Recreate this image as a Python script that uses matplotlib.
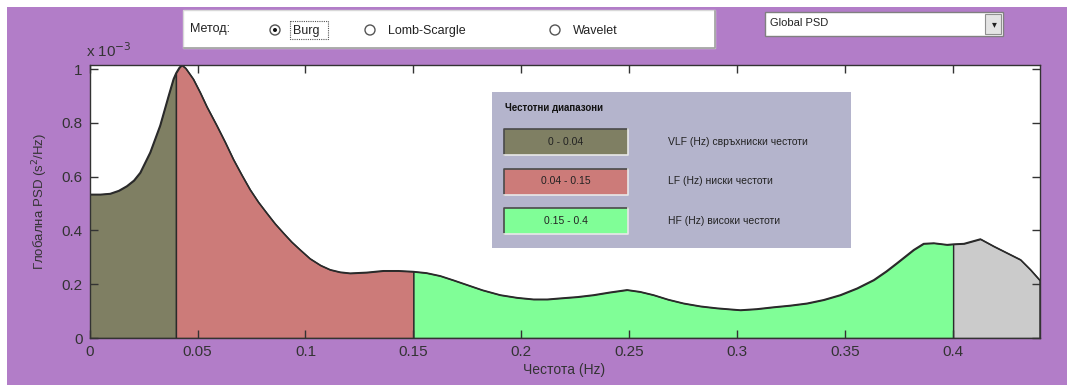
import numpy as np
import matplotlib
matplotlib.use('Agg')
from matplotlib import pyplot as plt
from matplotlib.patches import Rectangle, Circle

''' data read off the reference (psd in units of 1e-3 s^2/Hz) '''
freq = [0.0, 0.005, 0.0095, 0.0135, 0.0172, 0.0205, 0.0234, 0.028, 0.0326, 0.0365, 0.0388,
        0.04, 0.0415, 0.0427, 0.0445, 0.048, 0.0512, 0.0543, 0.0589, 0.0628, 0.0666, 0.0705,
        0.0743, 0.0782, 0.082, 0.0859, 0.0898, 0.0936, 0.0975, 0.1021, 0.107, 0.1114,
        0.116, 0.1206, 0.1284, 0.136, 0.143, 0.15,
        0.156, 0.1624, 0.1685, 0.1747, 0.182, 0.1902, 0.198, 0.2056, 0.212, 0.218, 0.226,
        0.2334, 0.241, 0.2489, 0.255, 0.2612, 0.268, 0.2751, 0.283, 0.2906,
        0.3014, 0.309, 0.3168, 0.3245, 0.3323, 0.34, 0.3477, 0.3555, 0.3632, 0.369, 0.374,
        0.3817, 0.3863, 0.391, 0.3972,
        0.4, 0.405, 0.4126, 0.4188, 0.425, 0.4312, 0.4358, 0.44]
psd = [0.534, 0.534, 0.537, 0.548, 0.565, 0.586, 0.615, 0.69, 0.79, 0.90, 0.963,
       0.985, 1.005, 1.015, 1.003, 0.963, 0.913, 0.86, 0.79, 0.728, 0.664, 0.606,
       0.552, 0.505, 0.465, 0.425, 0.39, 0.357, 0.328, 0.295, 0.27, 0.254,
       0.245, 0.241, 0.244, 0.25, 0.25, 0.247,
       0.242, 0.231, 0.215, 0.198, 0.178, 0.160, 0.150, 0.144, 0.144, 0.148, 0.153,
       0.160, 0.170, 0.179, 0.172, 0.160, 0.143, 0.129, 0.118, 0.111,
       0.104, 0.108, 0.115, 0.121, 0.129, 0.142, 0.160, 0.185, 0.216, 0.248, 0.279,
       0.328, 0.351, 0.353, 0.347,
       0.349, 0.351, 0.368, 0.341, 0.316, 0.291, 0.254, 0.216]

bands = [(0.0, 0.04), (0.04, 0.15), (0.15, 0.4), (0.4, 0.44)]
band_colors = ['#7f7f63', '#cc7b79', '#80fe97', '#cbcbcb']
band_labels = ['0 - 0.04', '0.04 - 0.15', '0.15 - 0.4']
band_names = ['VLF (Hz) свръхниски честоти', 'LF (Hz) ниски честоти', 'HF (Hz) високи честоти']
xticks = [0, 0.05, 0.1, 0.15, 0.2, 0.25, 0.3, 0.35, 0.4]
xticklabels = ['0', '0.05', '0.1', '0.15', '0.2', '0.25', '0.3', '0.35', '0.4']
yticks = [0, 0.2, 0.4, 0.6, 0.8, 1.0]
yticklabels = ['0', '0.2', '0.4', '0.6', '0.8', '1']

plt.rcParams['font.family'] = ['Liberation Sans', 'DejaVu Sans']

W, H = 1067, 388
fig = plt.figure(figsize=(W / 100, H / 100), dpi=100)
fig.patch.set_facecolor('white')

purple = '#b27dc8'

# ui overlay in pixel coords
ui = fig.add_axes([0, 0, 1, 1], zorder=5)
ui.set_xlim(0, W)
ui.set_ylim(H, 0)
ui.axis('off')
ui.patch.set_alpha(0)

bg = fig.add_axes([0, 0, 1, 1], zorder=0)
bg.set_xlim(0, W)
bg.set_ylim(H, 0)
bg.axis('off')
bg.add_patch(Rectangle((7, 7), W - 7, H - 10, facecolor=purple, edgecolor='none'))

ax = fig.add_axes([89.6 / W, (H - 338) / H, (1039.5 - 89.6) / W, (338 - 65) / H], zorder=2)
f = np.asarray(freq)
p = np.asarray(psd)
for (lo, hi), c in zip(bands, band_colors):
    m = (f >= lo) & (f <= hi)
    ax.fill_between(f[m], 0, p[m], facecolor=c, edgecolor='#2a2a2a', linewidth=1.0)
ax.plot(f, p, color='#2a2a2a', linewidth=1.1)

ax.set_xlim(0, 0.44)
ax.set_ylim(0, max(psd))
ax.set_xticks(xticks)
ax.set_xticklabels(xticklabels)
ax.set_yticks(yticks)
ax.set_yticklabels(yticklabels)
ax.tick_params(direction='in', length=6, width=1, top=True, right=True,
               labelsize=11, labelcolor='#333333', color='#333333', pad=5)
for s in ax.spines.values():
    s.set_color('#333333')
    s.set_linewidth(1)
ax.set_xlabel('Честота (Hz)', fontsize=10, color='#333333', labelpad=3)
ax.set_ylabel('Глобална PSD (s$^2$/Hz)', fontsize=9.5, color='#333333', labelpad=8)
ax.text(-0.004, 1.035, r'x 10$^{-3}$', transform=ax.get_yaxis_transform(which='grid'),
        fontsize=11, color='#333333', ha='left', va='bottom')

# top method panel
ui.add_patch(Rectangle((183, 10), 532, 38, facecolor='white', edgecolor='#d8d8d8', linewidth=1))
ui.plot([184, 715, 715], [48, 48, 11], color='#a0a0a0', linewidth=1.2)
ui.text(190, 29, 'Метод:', fontsize=9, ha='left', va='center', color='#222222')
radios = [(275, 'Burg', True), (370, 'Lomb-Scargle', False), (555, 'Wavelet', False)]
for rx, name, on in radios:
    ui.add_patch(Circle((rx, 30), 5, facecolor='white', edgecolor='#555555', linewidth=1))
    if on:
        ui.add_patch(Circle((rx, 30), 2, facecolor='#111111', edgecolor='none'))
    ui.text(rx + 18, 31, name, fontsize=9, ha='left', va='center', color='#222222')
ui.add_patch(Rectangle((290, 21), 38, 18, facecolor='none', edgecolor='#555555',
                       linewidth=0.8, linestyle=(0, (1, 1))))

# dropdown
ui.add_patch(Rectangle((765, 12), 238, 24, facecolor='white', edgecolor='#808080', linewidth=1))
ui.add_patch(Rectangle((985, 14), 16, 20, facecolor='#e4e4e4', edgecolor='#909090', linewidth=0.8))
ui.text(994, 24, '▾', fontsize=7, ha='center', va='center', color='#222222', family='DejaVu Sans')
ui.text(770, 23, 'Global PSD', fontsize=8, ha='left', va='center', color='#222222')

# band legend panel
ui.add_patch(Rectangle((492, 92), 359, 156, facecolor='#b4b4cc', edgecolor='none'))
ui.text(505, 108, 'Честотни диапазони', fontsize=7, fontweight='bold', ha='left', va='center',
        color='#111111')
for i, (lab, name) in enumerate(zip(band_labels, band_names)):
    y0 = 129 + i * 39.5
    ui.add_patch(Rectangle((504, y0), 124, 26, facecolor=band_colors[i], edgecolor='none'))
    ui.plot([504, 504, 628], [y0 + 26, y0, y0], color='#4a4a4a', linewidth=1.2)
    ui.plot([504, 628, 628], [y0 + 26, y0 + 26, y0], color='#e8e8e8', linewidth=1.2)
    ui.text(566, y0 + 13, lab, fontsize=7.5, ha='center', va='center', color='#222222')
    ui.text(668, y0 + 13, name, fontsize=7.5, ha='left', va='center', color='#222222')

plt.savefig('out.png', dpi=100, facecolor=fig.get_facecolor())
